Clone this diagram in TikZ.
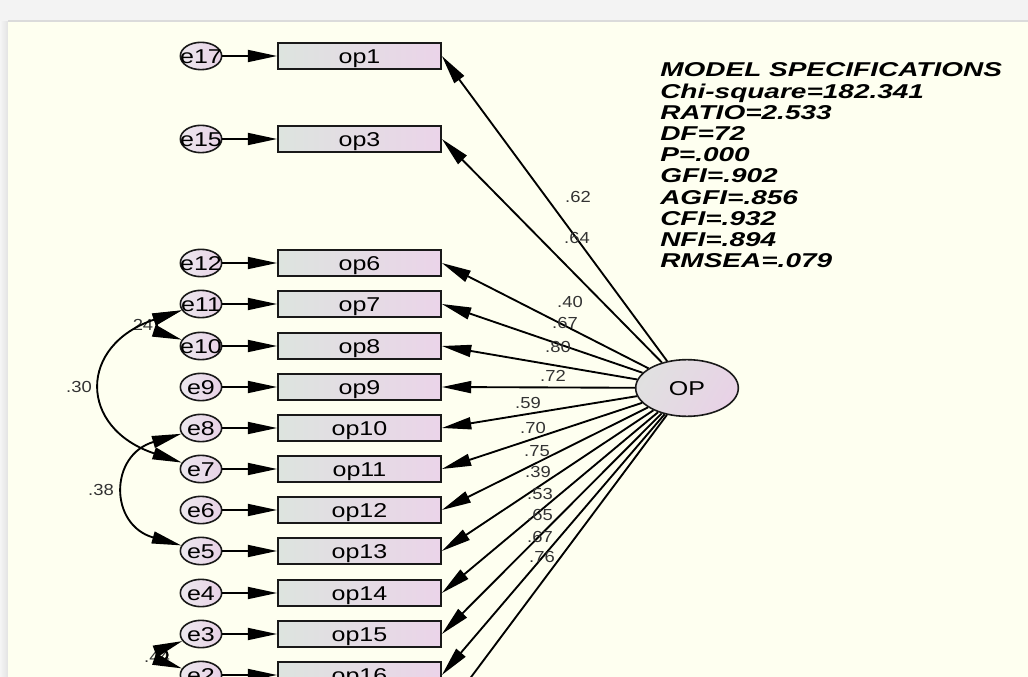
\documentclass[tikz,border=0pt]{standalone}
\usepackage{fontspec}
\setmainfont{Liberation Sans}
\newfontfamily\nodefont[FakeStretch=1.25]{Liberation Sans}
\newfontfamily\labfont[FakeStretch=1.15]{Liberation Sans}
\newfontfamily\statfont[FakeStretch=1.4]{Liberation Sans}
\usetikzlibrary{arrows.meta,shapes.geometric}
\definecolor{bgivory}{RGB}{254,255,240}
\definecolor{outerbg}{RGB}{243,243,243}
\definecolor{boxL}{RGB}{221,228,223}
\definecolor{boxR}{RGB}{235,212,233}
\definecolor{errL}{RGB}{236,232,238}
\definecolor{errR}{RGB}{232,210,230}
\newcommand\zw[1]{\makebox[0pt]{#1}}
\tikzset{
  obs/.style={rectangle, draw=black!90, line width=1.6pt, minimum width=122pt, minimum height=19.5pt, inner sep=0pt, text height=10.7pt, text depth=0pt, left color=boxL, right color=boxR, font=\nodefont\fontsize{15}{17}\selectfont},
  err/.style={ellipse, draw=black!90, line width=1.2pt, minimum width=31pt, minimum height=20.5pt, inner sep=0pt, text height=10.7pt, text depth=0pt, left color=errL, right color=errR, font=\nodefont\fontsize{15}{17}\selectfont},
  lat/.style={ellipse, draw=black!90, line width=1.2pt, minimum width=77pt, minimum height=42.5pt, inner sep=0pt, text height=10.7pt, text depth=0pt, left color=black!12, right color=errR, shading angle=60, font=\nodefont\fontsize{15}{17}\selectfont},
  reg/.style={draw=black, line width=1.4pt, -{Triangle[length=22pt,width=9pt]}},
  cov/.style={draw=black, line width=1.4pt, {Triangle[length=22pt,width=9pt]}-{Triangle[length=22pt,width=9pt]}},
  lab/.style={inner sep=0pt, text=black!80, font=\labfont\fontsize{12}{14}\selectfont},
  stat/.style={inner sep=0pt, anchor=base west, font=\statfont\bfseries\itshape\fontsize{15}{17}\selectfont}
}
\begin{document}
\begin{tikzpicture}[x=0.75pt,y=-0.75pt]
\useasboundingbox (0,0) rectangle (1028,677);
\clip (0,0) rectangle (1028,677);
% background
\fill[outerbg] (0,0) rectangle (1028,677);
\fill[left color=black!4, right color=black!11] (0,22) rectangle (8,677);
\fill[bgivory] (8,22) rectangle (1028,677);
\draw[black!14, line width=1.2pt] (8,21) -- (1028,21);
% observed variables and error terms
\foreach \nm/\er/\yy in {op1/e17/56, op3/e15/139, op6/e12/263, op7/e11/304, op8/e10/346, op9/e9/387, op10/e8/428, op11/e7/469, op12/e6/510, op13/e5/551, op14/e4/593, op15/e3/634, op16/e2/675}{
  \node[obs] (\nm) at (359.5,\yy) {\nm};
  \node[err] (\er) at (201,\yy) {\zw{\er}};
  \draw[reg] (\er) -- (\nm);
}
% latent variable
\node[lat] (OP) at (687,388) {\zw{OP}};
\coordinate (op17) at (442,716);
% loadings
\foreach \nm/\val/\lx/\ly in {op1/.62/578/197, op3/.64/577/238, op6/.40/570/302, op7/.67/565/323, op8/.80/558/347, op9/.72/553/376, op10/.59/528/403, op11/.70/533/428, op12/.75/537/451, op13/.39/538/472, op14/.53/540/494, op15/.65/540/515, op16/.67/540/537}{
  \draw[reg] (OP) -- (\nm.east);
  \node[lab] (l\nm) at (\lx,\ly) {\val};
}
\draw[reg] (OP) -- (op17);
\node[lab] (lop17) at (542,557) {.76};
% covariances
\node[lab] (c30) at (79,387) {.30};
\node[lab] (c24) at (143,325) {24};
\node[lab] (c38) at (101,490) {.38};
\node[lab] (c44) at (157,657) {.44};
\draw[cov] (e11) .. controls (78,345) and (78,428) .. (e7);
\draw[cov] (e11) .. controls (158,318) and (158,332) .. (e10);
\draw[cov] (e8) .. controls (109,455) and (109,525) .. (e5);
\draw[cov] (e3) .. controls (172,645) and (172,665) .. (e2);
% model specifications
\foreach \t [count=\i from 0] in {MODEL SPECIFICATIONS, Chi-square=182.341, RATIO=2.533, DF=72, P=.000, GFI=.902, AGFI=.856, CFI=.932, NFI=.894, RMSEA=.079}{
  \node[stat] (s\i) at (660,{77+21.2*\i}) {\t};
}
\end{tikzpicture}
\end{document}
